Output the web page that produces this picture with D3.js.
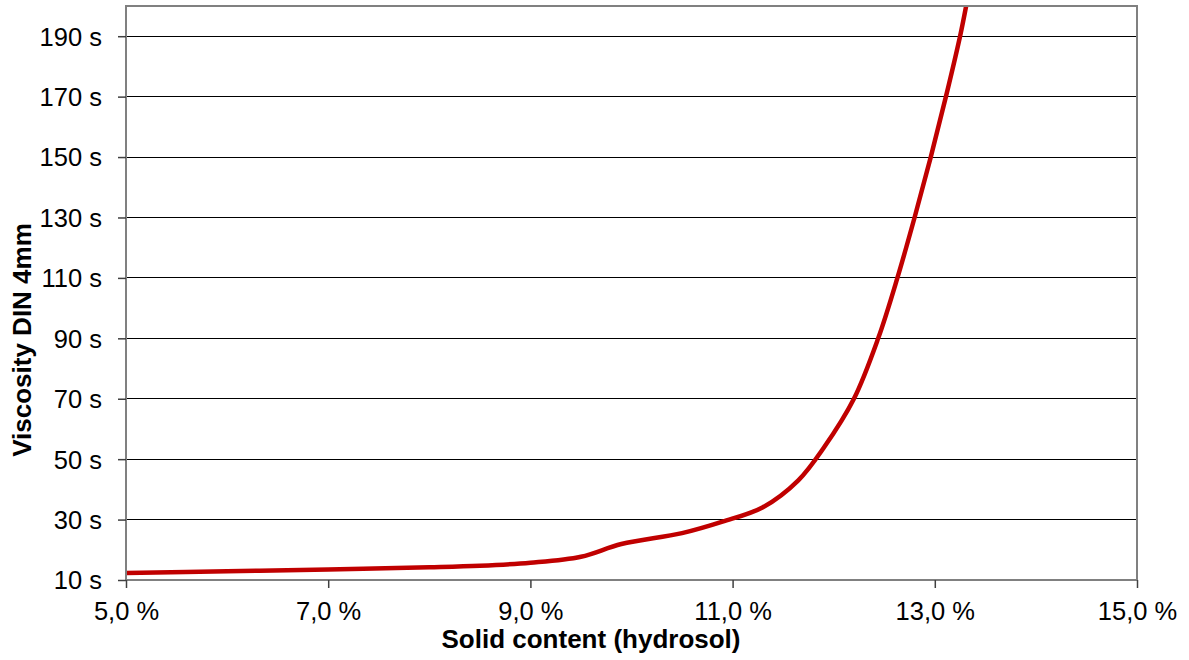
<!DOCTYPE html>
<html lang="en">
<head>
	<meta charset="UTF-8">
	<script type="text/javascript" src="https://d3js.org/d3.v7.min.js"></script>
	<title>viscosity curve</title>
	<style>
        body{ margin: 0; background: #fff; }
        text{ font-family: "Liberation Sans", Arial, sans-serif; fill: #000; }
	</style>
</head>
<body>
<svg id="svg1" width="1189" height="660"></svg>
<script>
	// solid content (%) and viscosity (s)
	const solid = [5.0, 6.0, 7.0, 8.0, 8.5, 9.0, 9.5, 9.9, 10.5, 10.9, 11.3, 11.65, 11.9, 12.2, 12.44, 12.63, 12.8, 12.96, 13.11, 13.25, 13.31];
	const visc = [12.3, 12.9, 13.5, 14.2, 14.7, 15.7, 17.7, 21.9, 25.5, 29.3, 34.1, 43, 53.7, 70, 90, 110, 130, 150, 170, 190, 200];
	const xTicks = [5, 7, 9, 11, 13, 15];
	const yTicks = [10, 30, 50, 70, 90, 110, 130, 150, 170, 190];

	const svg = d3.select("#svg1");
	const plotLeft = 126, plotRight = 1137, plotTop = 6, plotBottom = 580;

	const x = d3.scaleLinear().domain([5, 15]).range([plotLeft, plotRight]);
	const y = d3.scaleLinear().domain([10, 200]).range([plotBottom, plotTop]);

	// grid lines
	svg.append("g")
		.selectAll("line")
		.data(yTicks.slice(1))
		.join("line")
		.attr("x1", plotLeft).attr("x2", plotRight)
		.attr("y1", d => y(d)).attr("y2", d => y(d))
		.style("stroke", "#000")
		.style("stroke-width", "1px")
		.attr("shape-rendering", "crispEdges");

	// curve
	svg.append("clipPath").attr("id", "clip")
		.append("rect")
		.attr("x", plotLeft).attr("y", plotTop)
		.attr("width", plotRight - plotLeft).attr("height", plotBottom - plotTop);

	const pts = solid.map((s, i) => [s, visc[i]]);
	svg.append("path")
		.datum(pts)
		.attr("clip-path", "url(#clip)")
		.attr("d", d3.line().x(d => x(d[0])).y(d => y(d[1])).curve(d3.curveCatmullRom.alpha(0.5)))
		.style("fill", "none")
		.style("stroke", "#c00000")
		.style("stroke-width", "4.5px");

	// frame
	svg.append("rect")
		.attr("x", plotLeft).attr("y", plotTop)
		.attr("width", plotRight - plotLeft).attr("height", plotBottom - plotTop)
		.style("fill", "none")
		.style("stroke", "#808080")
		.style("stroke-width", "2px");

	// axes
	const yAxis = d3.axisLeft(y).tickValues(yTicks).tickSize(8).tickPadding(16)
		.tickFormat(d => d + " s");
	const xAxis = d3.axisBottom(x).tickValues(xTicks).tickSize(8).tickPadding(14)
		.tickFormat(d => d3.format(".1f")(d).replace(".", ",") + " %");

	const gy = svg.append("g").attr("transform", "translate(" + plotLeft + ",0)").call(yAxis);
	const gx = svg.append("g").attr("transform", "translate(0," + plotBottom + ")").call(xAxis);
	[gx, gy].forEach(g => {
		g.select(".domain").remove();
		g.selectAll("line").style("stroke", "#404040").style("stroke-width", "1.5px");
		g.selectAll("text")
			.style("font-family", "'Liberation Sans', Arial, sans-serif")
			.style("font-size", "25.5px")
			.style("fill", "#000");
	});
	gy.selectAll("text").attr("dy", "0.35em");

	// titles
	svg.append("text")
		.attr("x", 591)
		.attr("y", 648)
		.style("text-anchor", "middle")
		.style("font-size", "26px")
		.style("font-weight", "bold")
		.text("Solid content (hydrosol)");

	svg.append("text")
		.attr("transform", "translate(31,340) rotate(-90)")
		.style("text-anchor", "middle")
		.style("font-size", "26px")
		.style("font-weight", "bold")
		.text("Viscosity DIN 4mm");
</script>
</body>
</html>
